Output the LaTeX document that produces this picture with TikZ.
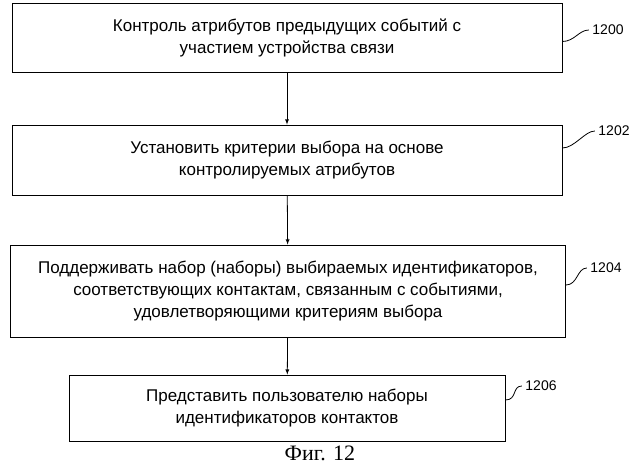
\documentclass[tikz,border=0pt]{standalone}
\usepackage{fontspec}
\setmainfont{Liberation Sans}
\newfontfamily\capfont{Liberation Serif}
\usetikzlibrary{arrows}

\begin{document}
\begin{tikzpicture}[x=1pt,y=-1pt]
    \useasboundingbox (0,0) rectangle (640,465);
    \tikzset{stepbox/.style={draw,thick,align=center,font=\fontsize{17}{22}\selectfont,inner sep=0pt},
             refnum/.style={font=\fontsize{14}{16}\selectfont}}
    % boxes
    \node[stepbox,minimum width=550,minimum height=69] (box1) at (287,37.5) {Контроль атрибутов предыдущих событий с\\участием устройства связи};
    \node[stepbox,minimum width=550,minimum height=70] (box2) at (287,160) {Установить критерии выбора на основе\\контролируемых атрибутов};
    \node[stepbox,minimum width=555,minimum height=92] (box3) at (288,291) {Поддерживать набор (наборы) выбираемых идентификаторов,\\соответствующих контактам, связанным с событиями,\\удовлетворяющими критериям выбора};
    \node[stepbox,minimum width=436,minimum height=66] (box4) at (287,408) {Представить пользователю наборы\\идентификаторов контактов};

    \foreach \from/\to in {box1/box2,box2/box3,box3/box4}
    \draw[thick,->,>=latex] (\from) -- (\to);

    % reference numbers
    \node[refnum] (num1) at (608,30) {1200};
    \node[refnum] (num2) at (614,131) {1202};
    \node[refnum] (num3) at (606,268) {1204};
    \node[refnum] (num4) at (541,386) {1206};
    \draw[thick] (box1.east) ++(0,4) .. controls +(12,0) and +(-10,0) .. (num1.west);
    \draw[thick] (box2.east) ++(0,-12) .. controls +(12,0) and +(-10,0) .. (num2.west);
    \draw[thick] (box3.east) ++(0,-6) .. controls +(12,0) and +(-10,0) .. (num3.west);
    \draw[thick] (box4.east) ++(0,-8) .. controls +(12,0) and +(-10,0) .. (num4.west);

    \node[font=\capfont\fontsize{22}{24}\selectfont] (caption) at (320,453) {Фиг. 12};
\end{tikzpicture}
\end{document}
